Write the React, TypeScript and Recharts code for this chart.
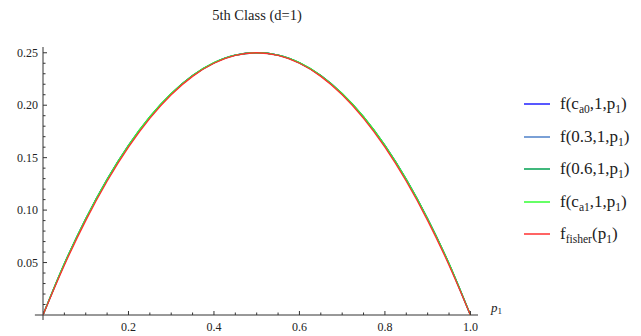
import React from 'react';
import { LineChart, Line, XAxis, YAxis, ReferenceLine } from 'recharts';

const pValues = [0, 0.05, 0.1, 0.15, 0.2, 0.25, 0.3, 0.35, 0.4, 0.45, 0.5, 0.55, 0.6, 0.65, 0.7, 0.75, 0.8, 0.85, 0.9, 0.95, 1.0];

const fCa0 = [0, 0.0489, 0.0917, 0.1293, 0.1617, 0.1889, 0.211, 0.2283, 0.2405, 0.2478, 0.25, 0.2478, 0.2405, 0.2283, 0.211, 0.1889, 0.1617, 0.1293, 0.0917, 0.0489, 0];
const f03 = [0, 0.0487, 0.0915, 0.1291, 0.1615, 0.1887, 0.2108, 0.2281, 0.2403, 0.2477, 0.25, 0.2477, 0.2403, 0.2281, 0.2108, 0.1887, 0.1615, 0.1291, 0.0915, 0.0487, 0];
const f06 = [0, 0.0488, 0.0916, 0.1292, 0.1616, 0.1888, 0.2109, 0.2282, 0.2404, 0.2477, 0.25, 0.2477, 0.2404, 0.2282, 0.2109, 0.1888, 0.1616, 0.1292, 0.0916, 0.0488, 0];
const fCa1 = [0, 0.049, 0.0918, 0.1294, 0.1618, 0.189, 0.2111, 0.2284, 0.2406, 0.2478, 0.25, 0.2478, 0.2406, 0.2284, 0.2111, 0.189, 0.1618, 0.1294, 0.0918, 0.049, 0];
const fFisher = [0, 0.0475, 0.09, 0.1275, 0.16, 0.1875, 0.21, 0.2275, 0.24, 0.2475, 0.25, 0.2475, 0.24, 0.2275, 0.21, 0.1875, 0.16, 0.1275, 0.09, 0.0475, 0];

const xTicks = [0, 0.05, 0.1, 0.15, 0.2, 0.25, 0.3, 0.35, 0.4, 0.45, 0.5, 0.55, 0.6, 0.65, 0.7, 0.75, 0.8, 0.85, 0.9, 0.95, 1.0];
const xLabeled = [0.2, 0.4, 0.6, 0.8, 1.0];
const yTicks = [0.01, 0.02, 0.03, 0.04, 0.05, 0.06, 0.07, 0.08, 0.09, 0.1, 0.11, 0.12, 0.13, 0.14, 0.15, 0.16, 0.17, 0.18, 0.19, 0.2, 0.21, 0.22, 0.23, 0.24, 0.25];
const yLabeled = [0.05, 0.1, 0.15, 0.2, 0.25];

const series = [
  { key: 'ca0', color: '#2020ff', values: fCa0, label: ['f(c', 'a0', ',1,p', '1', ')'] },
  { key: 'c03', color: '#4d80c8', values: f03, label: ['f(0.3,1,p', '1', ')'] },
  { key: 'c06', color: '#00a050', values: f06, label: ['f(0.6,1,p', '1', ')'] },
  { key: 'ca1', color: '#33ff33', values: fCa1, label: ['f(c', 'a1', ',1,p', '1', ')'] },
  { key: 'fisher', color: '#ff3030', values: fFisher, label: ['f', 'fisher', '(p', '1', ')'] },
];

const data = pValues.map((p, i) => {
  const row: Record<string, number> = { p };
  series.forEach((s) => {
    row[s.key] = s.values[i];
  });
  return row;
});

const AXIS = '#333';
const FONT = '"Liberation Serif", "Times New Roman", serif';
const isIn = (list: number[], v: number) => list.some((m) => Math.abs(m - v) < 1e-6);

const XTick = (props: any) => {
  const { x, y, payload } = props;
  const v = payload.value as number;
  if (v === 0) {
    return <line x1={x} x2={x} y1={y} y2={y + 5} stroke={AXIS} />;
  }
  const major = isIn(xLabeled, v);
  return (
    <g>
      <line x1={x} x2={x} y1={y} y2={y - (major ? 4 : 2.5)} stroke={AXIS} />
      {major && (
        <text x={x} y={y + 16} textAnchor="middle" fontFamily={FONT} fontSize={12} fill="#222">
          {v.toFixed(1)}
        </text>
      )}
    </g>
  );
};

const YTick = (props: any) => {
  const { x, y, payload } = props;
  const v = payload.value as number;
  const major = isIn(yLabeled, v);
  return (
    <g>
      <line x1={x} x2={x + (major ? 4 : 2.5)} y1={y} y2={y} stroke={AXIS} />
      {major && (
        <text x={x - 5} y={y + 4} textAnchor="end" fontFamily={FONT} fontSize={12} fill="#222">
          {v.toFixed(2)}
        </text>
      )}
    </g>
  );
};

const LegendLabel = ({ parts }: { parts: string[] }) => (
  <span>
    {parts.map((t, i) =>
      i % 2 === 1 ? (
        <span key={i} style={{ fontSize: '68%', position: 'relative', top: 4 }}>
          {t}
        </span>
      ) : (
        <span key={i}>{t}</span>
      )
    )}
  </span>
);

export default function App() {
  return (
    <div style={{ position: 'absolute', left: 0, top: 0, width: 641, height: 336, background: '#fff', fontFamily: FONT }}>
      <div style={{ position: 'absolute', left: 157, width: 200, top: 7, textAlign: 'center', fontSize: 14.5, color: '#222' }}>
        5th Class (d=1)
      </div>
      <LineChart width={641} height={336} data={data} margin={{ top: 47, right: 163, bottom: 0, left: 0 }}>
        <XAxis
          dataKey="p"
          type="number"
          domain={[0, 1.0178]}
          ticks={xTicks}
          interval={0}
          tickSize={0}
          tickMargin={0}
          tickLine={false}
          height={21}
          axisLine={false}
          tick={<XTick />}
          allowDataOverflow
        />
        <YAxis
          type="number"
          domain={[0, 0.2555]}
          ticks={yTicks}
          interval={0}
          tickSize={0}
          tickMargin={0}
          tickLine={false}
          width={43}
          axisLine={{ stroke: AXIS }}
          tick={<YTick />}
          allowDataOverflow
        />
        <ReferenceLine
          segment={[{ x: -0.019, y: 0 }, { x: 1.0178, y: 0 }]}
          stroke={AXIS}
          ifOverflow="visible"
        />
        {series.map((s) => (
          <Line
            key={s.key}
            dataKey={s.key}
            type="monotone"
            stroke={s.color}
            strokeWidth={1.3}
            dot={false}
            isAnimationActive={false}
          />
        ))}
      </LineChart>
      <div style={{ position: 'absolute', left: 491, top: 300, fontSize: 13, fontStyle: 'italic', color: '#222' }}>
        p<span style={{ fontSize: '70%', fontStyle: 'normal', position: 'relative', top: 2 }}>1</span>
      </div>
      {series.map((s, i) => (
        <div
          key={s.key}
          style={{ position: 'absolute', left: 524, top: Math.round(104 + i * 32.5) - 12, height: 24, display: 'flex', alignItems: 'center', fontSize: 17, color: '#222', whiteSpace: 'nowrap' }}
        >
          <div style={{ width: 26, height: 2, background: s.color, opacity: 0.75, marginRight: 10 }} />
          <LegendLabel parts={s.label} />
        </div>
      ))}
    </div>
  );
}
